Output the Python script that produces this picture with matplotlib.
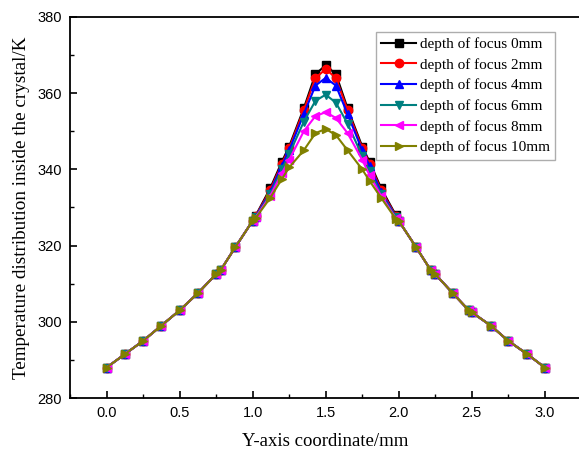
import numpy as np
import matplotlib.pyplot as plt
from matplotlib.ticker import MultipleLocator

# Y-axis coordinate (mm), shared by all series
y_coord = [0.0, 0.125, 0.25, 0.375, 0.5, 0.625, 0.75, 0.78, 0.88, 1.0, 1.02,
           1.12, 1.2, 1.25, 1.35, 1.43, 1.5, 1.57, 1.65, 1.75, 1.8, 1.88,
           1.98, 2.0, 2.12, 2.22, 2.25, 2.37, 2.48, 2.5, 2.63, 2.75, 2.88, 3.0]

# outer parts are the same for all depths
left_part = [288.0, 291.5, 295.0, 299.0, 303.0, 307.5, 312.5, 313.5, 319.5, 326.5]
right_part = [326.5, 319.5, 313.5, 312.5, 307.5, 303.0, 302.5, 299.0, 295.0, 291.5, 288.0]

temp_0mm = [327.8, 335.0, 342.0, 346.0, 356.0, 365.0, 367.3, 365.0, 356.0, 346.0, 342.0, 335.0, 328.0]
temp_2mm = [327.7, 334.5, 341.5, 345.5, 355.5, 364.0, 366.3, 364.0, 355.5, 345.5, 341.5, 334.5, 327.8]
temp_4mm = [327.6, 334.0, 341.0, 345.0, 354.5, 362.0, 364.0, 362.0, 354.5, 345.0, 341.0, 334.0, 327.6]
temp_6mm = [327.5, 333.5, 340.0, 344.0, 352.5, 358.0, 359.6, 357.5, 352.0, 343.5, 339.5, 333.5, 327.4]
temp_8mm = [327.4, 333.0, 339.0, 342.5, 350.0, 354.0, 355.0, 353.5, 349.5, 342.5, 338.5, 333.0, 327.2]
temp_10mm = [327.2, 332.5, 337.5, 340.5, 345.0, 349.5, 350.6, 349.0, 345.0, 340.0, 337.0, 332.5, 327.0]

labels = ["depth of focus 0mm", "depth of focus 2mm", "depth of focus 4mm",
          "depth of focus 6mm", "depth of focus 8mm", "depth of focus 10mm"]
series = [temp_0mm, temp_2mm, temp_4mm, temp_6mm, temp_8mm, temp_10mm]
colors = ["#000000", "#ff0000", "#0000ff", "#008080", "#ff00ff", "#808000"]
markers = ["s", "o", "^", "v", "<", ">"]

fig = plt.figure(figsize=(5.79, 4.58), dpi=100)
ax = fig.add_axes([0.121, 0.131, 0.883, 0.832])

for temps, lab, c, m in zip(series, labels, colors, markers):
    y = left_part + temps + right_part
    ax.plot(y_coord, y, color=c, marker=m, markersize=6, linewidth=1.5, label=lab)

ax.set_xlim(-0.25, 3.25)
ax.set_ylim(280, 380)
ax.xaxis.set_major_locator(MultipleLocator(0.5))
ax.xaxis.set_minor_locator(MultipleLocator(0.25))
ax.yaxis.set_major_locator(MultipleLocator(20))
ax.yaxis.set_minor_locator(MultipleLocator(10))
ax.tick_params(which="both", direction="in", top=False, right=False)
ax.tick_params(which="major", length=5, width=1.2, labelsize=10.5, pad=6)
ax.tick_params(which="minor", length=3, width=1.0)
for lbl in ax.get_xticklabels() + ax.get_yticklabels():
    lbl.set_family("Liberation Sans")
for s in ax.spines.values():
    s.set_linewidth(1.3)

ax.set_xlabel("Y-axis coordinate/mm", family="Liberation Serif", fontsize=13.5, labelpad=9)
ax.set_ylabel("Temperature distribution inside the crystal/K", family="Liberation Serif",
              fontsize=13.8, labelpad=5)

leg = ax.legend(loc="upper right", bbox_to_anchor=(0.949, 0.961),
                prop={"family": "Liberation Serif", "size": 11},
                fancybox=False, edgecolor="#999999", handlelength=2.3,
                handletextpad=0.25, borderpad=0.35, labelspacing=0.45,
                borderaxespad=0.0)
leg.get_frame().set_linewidth(1.0)

fig.savefig("out.png", dpi=100)
